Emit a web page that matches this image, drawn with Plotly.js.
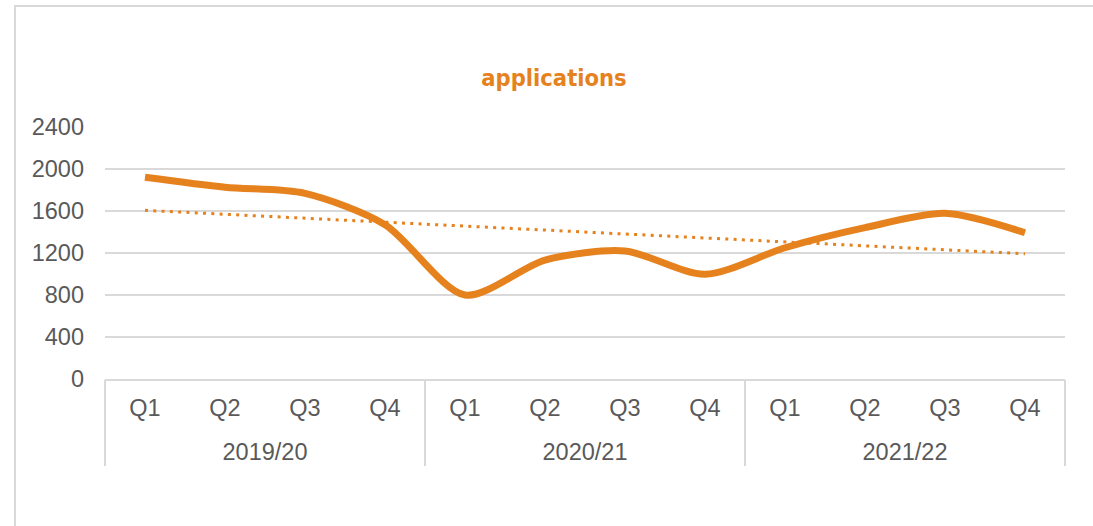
<!DOCTYPE html>
<html>
<head>
<meta charset="utf-8">
<script src="https://cdn.plot.ly/plotly-3.0.1.min.js"></script>
<style>
  html, body { margin: 0; padding: 0; background: #fff; overflow: hidden; }
  #chart { width: 1093px; height: 526px; }
  #frame { position: absolute; left: 14px; top: 5px; width: 1200px; height: 700px;
           border: 2px solid #d9d9d9; pointer-events: none; }
</style>
</head>
<body>
<div id="chart"></div>
<div id="frame"></div>
<script>
const yearLabels = ["2019/20", "2020/21", "2021/22"];
const years = ["2019/20","2019/20","2019/20","2019/20","2020/21","2020/21","2020/21","2020/21","2021/22","2021/22","2021/22","2021/22"];
const quarters = ["Q1","Q2","Q3","Q4","Q1","Q2","Q3","Q4","Q1","Q2","Q3","Q4"];
const applications = [1921, 1826, 1768, 1470, 800, 1133, 1219, 997, 1250, 1441, 1578, 1393];
const yTicks = [0, 400, 800, 1200, 1600, 2000, 2400];

// unique category keys (year + quarter); quarter shown as tick text
const cats = years.map((y, i) => y + " " + quarters[i]);

// linear trendline (least squares over category index), as Excel computes it
const n = applications.length;
const idx = applications.map((_, i) => i + 1);
const mx = idx.reduce((a, b) => a + b, 0) / n;
const my = applications.reduce((a, b) => a + b, 0) / n;
let sxy = 0, sxx = 0;
for (let i = 0; i < n; i++) { sxy += (idx[i] - mx) * (applications[i] - my); sxx += (idx[i] - mx) ** 2; }
const slope = sxy / sxx;
const trend = idx.map(x => my + slope * (x - mx));

const orange = "#E6821E";
const grey = "#d9d9d9";
const font = "Liberation Sans, Arial, sans-serif";
const tickFont = { family: font, size: 23.5, color: "#595959" };

const traces = [
  {
    x: yearLabels, y: yearLabels.map(() => null), xaxis: "x2", yaxis: "y",
    type: "scatter", mode: "lines", hoverinfo: "skip", showlegend: false
  },
  {
    x: cats, y: trend, type: "scatter", mode: "lines",
    line: { color: orange, width: 3, dash: "3px,5.3px" },
    hoverinfo: "skip", showlegend: false
  },
  {
    x: cats, y: applications, type: "scatter", mode: "lines",
    line: { color: orange, width: 7, shape: "spline", smoothing: 0.8 },
    name: "applications", showlegend: false
  }
];

const layout = {
  width: 1093, height: 526,
  margin: { l: 105, r: 28, t: 127, b: 147 },
  paper_bgcolor: "#fff", plot_bgcolor: "#fff",
  showlegend: false,
  title: {
    text: "<b>applications</b>",
    font: { family: "DejaVu Sans Condensed, DejaVu Sans, sans-serif", size: 23.5, color: orange },
    x: 554 / 1093, xref: "container", xanchor: "center",
    y: 1 - 78 / 526, yref: "container", yanchor: "middle"
  },
  xaxis: {
    type: "category", categoryorder: "array", categoryarray: cats,
    tickvals: cats, ticktext: quarters,
    range: [-0.5, cats.length - 0.5],
    showgrid: false, zeroline: false,
    showline: true, linecolor: grey, linewidth: 2,
    ticks: "", ticklabelstandoff: 7,
    tickfont: tickFont
  },
  xaxis2: {
    type: "category", categoryorder: "array", categoryarray: yearLabels,
    overlaying: "x", anchor: "y", side: "bottom",
    range: [-0.5, yearLabels.length - 0.5],
    showgrid: false, zeroline: false, showline: false,
    ticks: "outside", tickson: "boundaries", ticklen: 86,
    tickcolor: grey, tickwidth: 2,
    ticklabelstandoff: 56,
    tickfont: tickFont
  },
  yaxis: {
    range: [0, 2400], tickvals: yTicks, ticktext: yTicks.map(String),
    showgrid: true, gridcolor: grey, gridwidth: 1.5,
    zeroline: false, showline: false, ticks: "",
    ticklabelstandoff: 20,
    tickfont: tickFont
  }
};

Plotly.newPlot("chart", traces, layout, { displayModeBar: false, staticPlot: true });
</script>
</body>
</html>
